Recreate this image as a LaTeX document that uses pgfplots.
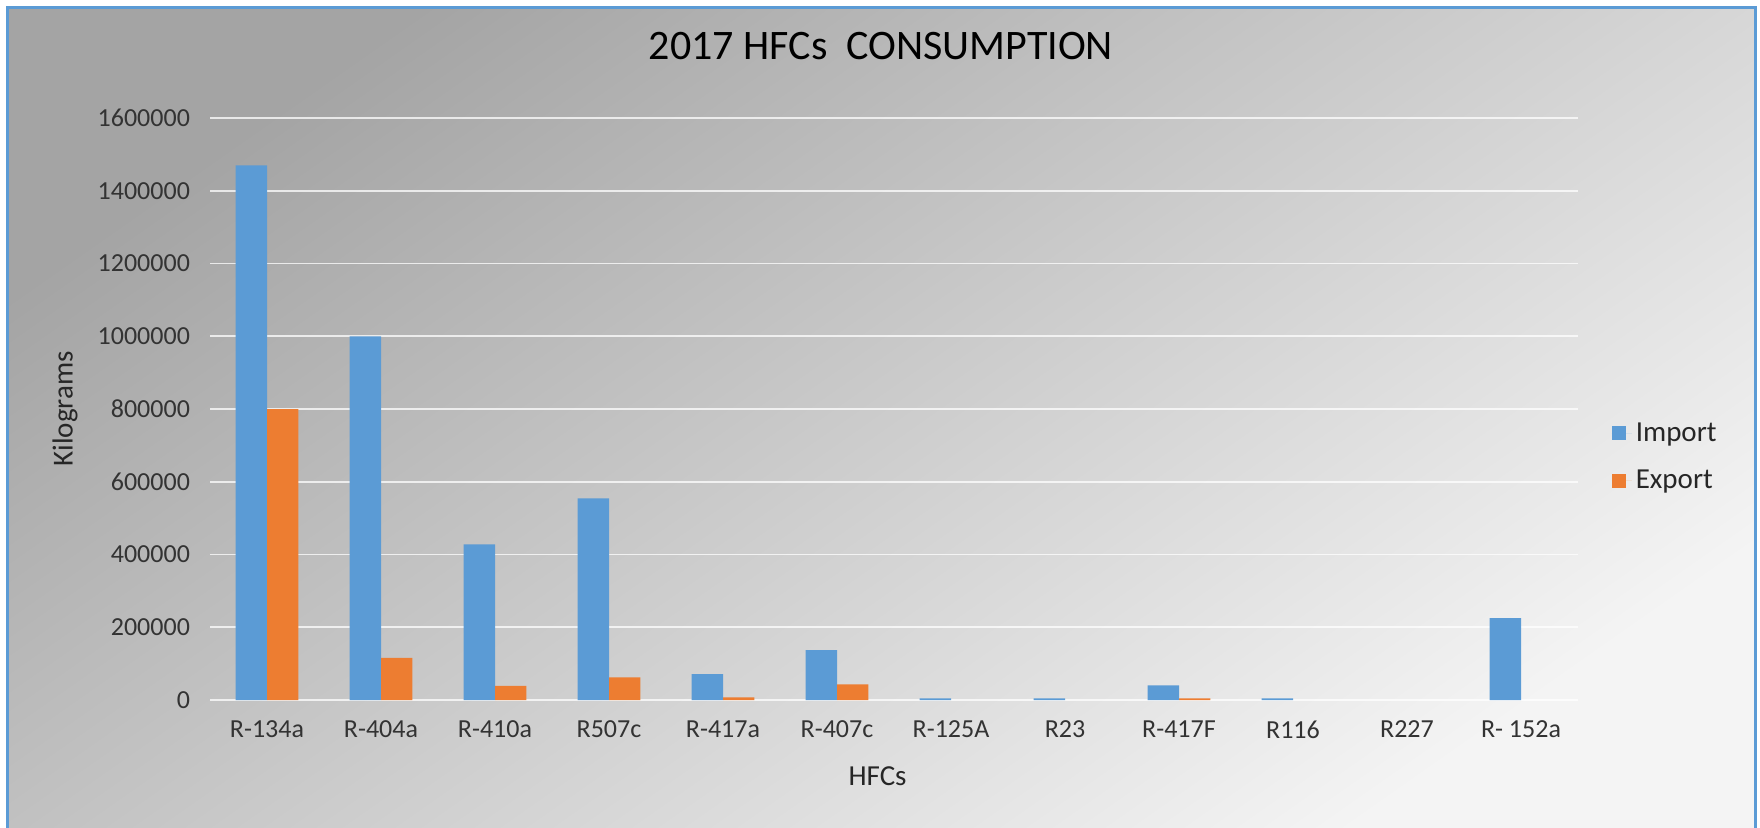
\documentclass[border=0pt]{standalone}
\usepackage{pgfplots}
\pgfplotsset{compat=1.18}
\usepackage{fontspec}
\setmainfont{Carlito}
\definecolor{impblue}{HTML}{5B9BD5}
\definecolor{exporange}{HTML}{ED7D31}
\definecolor{bgdark}{HTML}{A4A4A4}
\definecolor{bglight}{HTML}{F4F4F4}
\begin{document}
\begin{tikzpicture}
\useasboundingbox (0,0) rectangle (880pt,413.5pt);
% chart area: grey gradient, blue frame
\shade[top color=bgdark, bottom color=bglight, shading angle=35] (3.5pt,-5pt) rectangle (877.5pt,409.5pt);
\draw[impblue, line width=1.5pt] (3.5pt,-5pt) rectangle (877.5pt,409.5pt);
\begin{axis}[
    at={(105pt,63.5pt)}, anchor=south west,
    scale only axis, width=684pt, height=291pt,
    ybar, bar width=0.276,
    xmin=-0.5, xmax=11.5, ymin=0, ymax=1600000,
    xtick={0,1,2,3,4,5,6,7,8,9,10,11},
    xticklabels={R-134a,R-404a,R-410a,R507c,R-417a,R-407c,R-125A,R23,R-417F,R116,R227,R- 152a},
    ytick={0,200000,400000,600000,800000,1000000,1200000,1400000,1600000},
    scaled y ticks=false,
    /pgf/number format/assume math mode=true,
    yticklabel style={/pgf/number format/fixed, /pgf/number format/1000 sep={}, xshift=-6.5pt},
    xticklabel style={yshift=-7pt},
    ticklabel style={font=\fontsize{13}{15}\selectfont, text=black!80},
    axis line style={draw=none},
    major tick length=0pt,
    ymajorgrids=true,
    grid style={white, opacity=0.75, line width=0.8pt},
    title={2017 HFCs\ \ CONSUMPTION},
    title style={at={(axis description cs:0.4905,1.103)}, anchor=center, font=\fontsize{21}{25}\selectfont},
    xlabel={HFCs},
    xlabel style={at={(axis description cs:0.488,-0.1306)}, anchor=center, font=\fontsize{14.5}{17}\selectfont, text=black!85},
    ylabel={Kilograms},
    ylabel style={at={(axis description cs:-0.106,0.5)}, anchor=center, font=\fontsize{14.5}{17}\selectfont, text=black!85},
    legend image code/.code={\fill[#1] (0pt,-3.5pt) rectangle (7pt,3.5pt); \path (0pt,0pt) -- (10pt,0pt);},
    legend style={draw=none, fill=none, at={(1.02,0.4175)}, anchor=west,
        font=\fontsize{14.5}{17}\selectfont, row sep=9pt, text=black!85},
    legend cell align=left,
]
\addplot[draw=none, fill=impblue, bar shift=-0.138] coordinates {
    (0,1470000) (1,1000000) (2,428000) (3,554000) (4,71000) (5,137000)
    (6,4600) (7,4600) (8,40000) (9,4600) (11,225000)};
\addlegendentry{Import}
\addplot[draw=none, fill=exporange, bar shift=0.138] coordinates {
    (0,800000) (1,116000) (2,39000) (3,62000) (4,7400) (5,43000)
    (8,4600)};
\addlegendentry{Export}
\end{axis}
\end{tikzpicture}
\end{document}
